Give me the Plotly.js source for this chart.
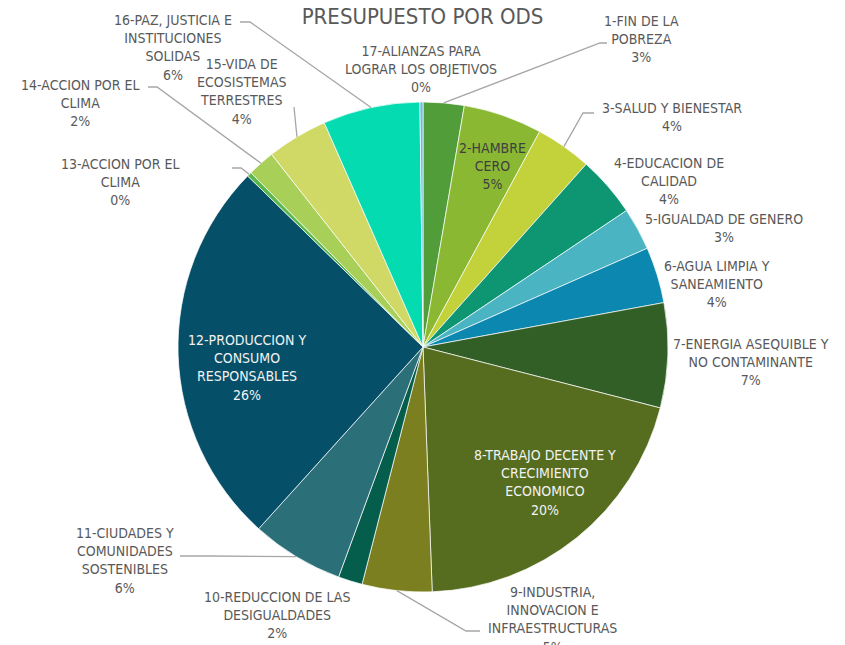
<!DOCTYPE html>
<html>
<head>
<meta charset="utf-8">
<script src="https://cdn.plot.ly/plotly-3.0.1.min.js"></script>
<style>html,body{margin:0;padding:0;background:#fff;}#chart{width:845px;height:645px;}</style>
</head>
<body>
<div id="chart"></div>
<script>
// ---- DATA ----
const categories = [
  "1-FIN DE LA POBREZA", "2-HAMBRE CERO", "3-SALUD Y BIENESTAR", "4-EDUCACION DE CALIDAD",
  "5-IGUALDAD DE GENERO", "6-AGUA LIMPIA Y SANEAMIENTO", "7-ENERGIA ASEQUIBLE Y NO CONTAMINANTE",
  "8-TRABAJO DECENTE Y CRECIMIENTO ECONOMICO", "9-INDUSTRIA, INNOVACION E INFRAESTRUCTURAS",
  "10-REDUCCION DE LAS DESIGUALDADES", "11-CIUDADES Y COMUNIDADES SOSTENIBLES",
  "12-PRODUCCION Y CONSUMO RESPONSABLES", "13-ACCION POR EL CLIMA", "14-ACCION POR EL CLIMA",
  "15-VIDA DE ECOSISTEMAS TERRESTRES", "16-PAZ, JUSTICIA E INSTITUCIONES SOLIDAS",
  "17-ALIANZAS PARA LOGRAR LOS OBJETIVOS"
];
const values = [2.7, 5.2, 3.7, 4.0, 2.8, 3.7, 6.9, 20.4, 4.6, 1.6, 6.1, 25.6, 0.3, 1.8, 4.0, 6.4, 0.2];
const wrappedLabels = [
  "1-FIN DE LA<br>POBREZA", "2-HAMBRE<br>CERO", "3-SALUD Y BIENESTAR", "4-EDUCACION DE<br>CALIDAD",
  "5-IGUALDAD DE GENERO", "6-AGUA LIMPIA Y<br>SANEAMIENTO", "7-ENERGIA ASEQUIBLE Y<br>NO CONTAMINANTE",
  "8-TRABAJO DECENTE Y<br>CRECIMIENTO<br>ECONOMICO", "9-INDUSTRIA,<br>INNOVACION E<br>INFRAESTRUCTURAS",
  "10-REDUCCION DE LAS<br>DESIGUALDADES", "11-CIUDADES Y<br>COMUNIDADES<br>SOSTENIBLES",
  "12-PRODUCCION Y<br>CONSUMO<br>RESPONSABLES", "13-ACCION POR EL<br>CLIMA", "14-ACCION POR EL<br>CLIMA",
  "15-VIDA DE<br>ECOSISTEMAS<br>TERRESTRES", "16-PAZ, JUSTICIA E<br>INSTITUCIONES<br>SOLIDAS",
  "17-ALIANZAS PARA<br>LOGRAR LOS OBJETIVOS"
];
const chartTitle = "PRESUPUESTO POR ODS";

// ---- STYLE / LAYOUT ----
const colors = ["#519d3a", "#8ab833", "#c3d13a", "#0e9672", "#4bb4c2", "#0c88b0", "#315f26",
  "#566d20", "#7b7f1f", "#055d4b", "#2b7079", "#064f68", "#5bb84d", "#a8d058", "#d0d966",
  "#05dbb0", "#6bbcd8"];
const W = 845, H = 645;
const cx = 423, cy = 347, R = 245;
const FONT = "Liberation Sans Narrow, Arial Narrow, DejaVu Sans Condensed, Arial, sans-serif";
const labelPos = [[641,39],[493,166],[672,117],[669,181],[724,228],[717,284],[751,362],
  [545,482],[552,619],[277,615],[125,560],[247,367],[120,182],[80,103],[242,92],[173,47],[421,69]];
const labelColor = {1:"#404040", 7:"#f2f2f2", 11:"#f2f2f2"};
const leaderElbows = {
  0: [[600,43],[607,43]],
  2: [[583,113],[594,113]],
  8: [[466,631],[480,631]],
  10: [[210,556],[180,556]],
  12: [[241,168],[232,168]],
  13: [[157,87],[148,87]],
  14: [[294,107]],
  15: [[250,22],[240,22]]
};

const total = values.reduce((a,b)=>a+b,0);
const px = x => x / W, py = y => 1 - y / H;

const annotations = [];
const shapes = [];
let cum = 0;
values.forEach((v, i) => {
  const mid = (cum + v / 2) / total * 2 * Math.PI;
  cum += v;
  const pct = Math.round(v / total * 100) + "%";
  annotations.push({
    xref: "paper", yref: "paper", x: px(labelPos[i][0]), y: py(labelPos[i][1]),
    xanchor: "center", yanchor: "middle", showarrow: false, align: "center",
    text: wrappedLabels[i] + "<br>" + pct,
    font: {family: FONT, size: 14, color: labelColor[i] || "#595959"}
  });
  if (leaderElbows[i]) {
    const sx = cx + R * Math.sin(mid), sy = cy - R * Math.cos(mid);
    let path = "M" + px(sx) + "," + py(sy);
    leaderElbows[i].forEach(p => { path += " L" + px(p[0]) + "," + py(p[1]); });
    shapes.push({type: "path", xref: "paper", yref: "paper", path: path,
      line: {color: "#a6a6a6", width: 1.3}, layer: "above"});
  }
});

const trace = {
  type: "pie",
  labels: categories,
  values: values,
  sort: false,
  direction: "clockwise",
  rotation: 0,
  textinfo: "none",
  hoverinfo: "label+percent",
  marker: {colors: colors, line: {color: "#ffffff", width: 0.7}},
  domain: {x: [(cx - R) / W, (cx + R) / W], y: [(H - cy - R) / H, (H - cy + R) / H]},
  showlegend: false
};

const layout = {
  width: W, height: H,
  margin: {l: 0, r: 0, t: 0, b: 0},
  paper_bgcolor: "#ffffff",
  title: {text: chartTitle, x: 0.5, xanchor: "center", y: py(16), yanchor: "middle",
    font: {family: FONT, size: 22, color: "#595959"}},
  annotations: annotations,
  shapes: shapes,
  showlegend: false
};

Plotly.newPlot("chart", [trace], layout, {displayModeBar: false, staticPlot: true});
</script>
</body>
</html>
